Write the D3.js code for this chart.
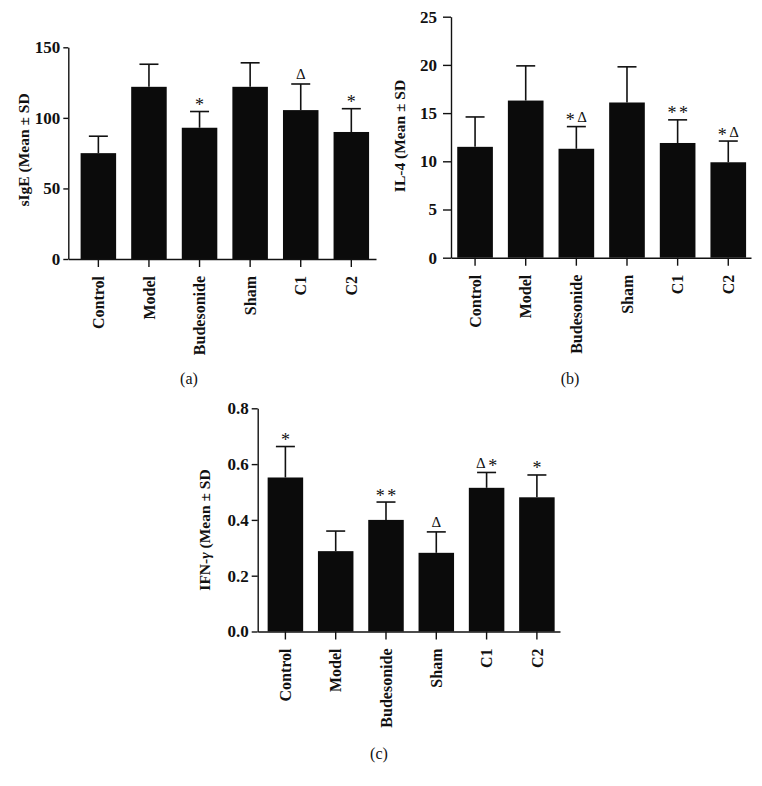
<!DOCTYPE html>
<html>
<head>
<meta charset="utf-8">
<script src="https://cdn.jsdelivr.net/npm/d3@7"></script>
<style>
  html, body { margin: 0; padding: 0; background: #fff; }
  svg { display: block; }
  text { font-family: "Liberation Serif", "Times New Roman", serif; fill: #111; }
</style>
</head>
<body>
<svg id="chart" width="762" height="786"></svg>
<script>
// ---------- data ----------
const categories = ["Control", "Model", "Budesonide", "Sham", "C1", "C2"];

const sIgEMean  = [75, 122, 93, 122, 105.5, 90];
const sIgEUpper = [87, 138, 104.5, 139, 124, 106.5];
const sIgEMarks = ["", "", "*", "", "Δ", "*"];
const sIgETicks = [0, 50, 100, 150];

const il4Mean  = [11.5, 16.3, 11.3, 16.1, 11.9, 9.9];
const il4Upper = [14.6, 19.9, 13.6, 19.8, 14.3, 12.1];
const il4Marks = ["", "", "*Δ", "", "**", "*Δ"];
const il4Ticks = [0, 5, 10, 15, 20, 25];

const ifnMean  = [0.552, 0.288, 0.40, 0.282, 0.515, 0.481];
const ifnUpper = [0.663, 0.36, 0.464, 0.357, 0.57, 0.561];
const ifnMarks = ["*", "", "**", "Δ", "Δ*", "*"];
const ifnTicks = [0, 0.2, 0.4, 0.6, 0.8];

// ---------- layout ----------
const panels = [
  { mean: sIgEMean, upper: sIgEUpper, marks: sIgEMarks, ticks: sIgETicks, fmt: d3.format("d"),
    max: 150, xr: [68.3, 376], yr: [259, 47.3], pi: 0.298, po: 0.19, al: 0.64,
    tick: 5, pad: 3, label: [{t: "sIgE (Mean ± SD"}], lx: 29, ly: 150, cap: "(a)", cx: 189, cy: 378 },
  { mean: il4Mean, upper: il4Upper, marks: il4Marks, ticks: il4Ticks, fmt: d3.format("d"),
    max: 25, xr: [451, 751], yr: [257.7, 16.7], pi: 0.296, po: 0.11, al: 0.56,
    tick: 8, pad: 6, label: [{t: "IL-4 (Mean ± SD"}], lx: 405, ly: 136, cap: "(b)", cx: 570, cy: 378 },
  { mean: ifnMean, upper: ifnUpper, marks: ifnMarks, ticks: ifnTicks, fmt: d3.format(".1f"),
    max: 0.8, xr: [257.7, 560], yr: [631.5, 408.3], pi: 0.294, po: 0.152, al: 0.65,
    tick: 6, pad: 3, label: [{t: "IFN-"}, {t: "γ", it: true}, {t: " (Mean ± SD"}], lx: 210, ly: 530, cap: "(c)", cx: 379, cy: 753 }
];

const svg = d3.select("#chart");

panels.forEach(p => {
  const g = svg.append("g");
  const x = d3.scaleBand().domain(categories).range(p.xr)
    .paddingInner(p.pi).paddingOuter(p.po).align(p.al);
  const y = d3.scaleLinear().domain([0, p.max]).range(p.yr);

  // bars
  g.selectAll("rect.bar").data(categories).join("rect")
    .attr("x", d => x(d)).attr("width", x.bandwidth())
    .attr("y", (d, i) => y(p.mean[i]))
    .attr("height", (d, i) => y(0) - y(p.mean[i]))
    .attr("fill", "#0b0b0b");

  // error bars (upper whisker)
  const capW = 19;
  g.selectAll("line.err").data(categories).join("line")
    .attr("x1", d => x(d) + x.bandwidth() / 2).attr("x2", d => x(d) + x.bandwidth() / 2)
    .attr("y1", (d, i) => y(p.mean[i])).attr("y2", (d, i) => y(p.upper[i]))
    .attr("stroke", "#111").attr("stroke-width", 1.6);
  g.selectAll("line.cap").data(categories).join("line")
    .attr("x1", d => x(d) + x.bandwidth() / 2 - capW / 2).attr("x2", d => x(d) + x.bandwidth() / 2 + capW / 2)
    .attr("y1", (d, i) => y(p.upper[i])).attr("y2", (d, i) => y(p.upper[i]))
    .attr("stroke", "#111").attr("stroke-width", 1.6);

  // significance marks
  categories.forEach((c, i) => {
    const m = p.marks[i];
    if (!m) return;
    const t = g.append("text")
      .attr("x", x(c) + x.bandwidth() / 2)
      .attr("y", y(p.upper[i]) - 4.5)
      .attr("text-anchor", "middle");
    let shift = 0;
    [...m].forEach((ch, k) => {
      const ts = t.append("tspan").text(ch);
      const target = ch === "*" ? 4 : 0;
      ts.attr("dy", target - shift);
      shift = target;
      if (k > 0) ts.attr("dx", 2.5);
      ts.style("font-size", ch === "*" ? "18px" : "15px");
    });
  });

  // y axis
  const ya = g.append("g").attr("transform", `translate(${p.xr[0]},0)`)
    .call(d3.axisLeft(y).tickValues(p.ticks).tickFormat(p.fmt).tickSize(p.tick).tickSizeOuter(0).tickPadding(p.pad));
  ya.selectAll("path, line").attr("stroke", "#111").attr("stroke-width", 1.4);
  ya.selectAll("text").style("font-size", "17px").style("font-weight", "bold").attr("fill", "#111");

  // x axis
  const xa = g.append("g").attr("transform", `translate(0,${p.yr[0]})`)
    .call(d3.axisBottom(x).tickSize(8).tickSizeOuter(0));
  xa.selectAll("path, line").attr("stroke", "#111").attr("stroke-width", 1.4);
  xa.selectAll("text")
    .attr("transform", "rotate(-90)")
    .attr("text-anchor", "end")
    .attr("x", -17).attr("y", 0).attr("dy", "0.35em")
    .style("font-size", "16px").style("font-weight", "bold").attr("fill", "#111");

  // y label
  const lab = g.append("text")
    .attr("transform", `translate(${p.lx},${p.ly}) rotate(-90)`)
    .attr("text-anchor", "middle")
    .style("font-size", "15.5px").style("font-weight", "bold");
  p.label.forEach(s => {
    const ts = lab.append("tspan").text(s.t);
    if (s.it) ts.style("font-style", "italic");
  });

  // caption
  g.append("text").attr("x", p.cx).attr("y", p.cy).attr("dy", "0.35em")
    .attr("text-anchor", "middle").style("font-size", "16px").text(p.cap);
});
</script>
</body>
</html>
